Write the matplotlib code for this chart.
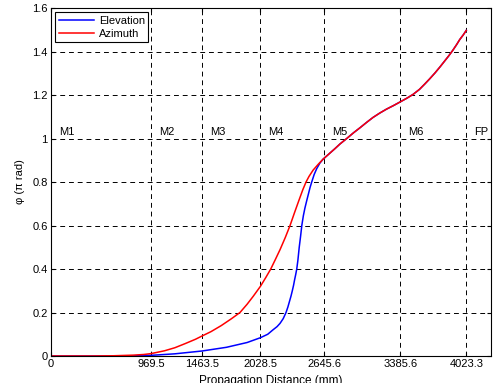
import numpy as np
import matplotlib
matplotlib.use("Agg")
import matplotlib.pyplot as plt

plt.rcParams["font.family"] = ["Liberation Sans", "DejaVu Sans"]

# the two curves split below ~2636 mm
az_head_x = [0, 400, 600, 800, 900, 969.5, 1100, 1200, 1300, 1400, 1463.5,
             1550, 1650, 1750, 1831, 1900, 1960, 2028.5, 2080, 2129, 2170,
             2220, 2270, 2316, 2360, 2403, 2440, 2471, 2500, 2540, 2590]
az_head_y = [0, 0, 0.001, 0.004, 0.007, 0.011, 0.024, 0.038, 0.057, 0.077, 0.092,
             0.112, 0.14, 0.172, 0.2, 0.238, 0.275, 0.32, 0.36, 0.4, 0.44,
             0.49, 0.545, 0.6, 0.66, 0.717, 0.765, 0.8, 0.826, 0.855, 0.882]

el_head_x = [0, 600, 800, 969.5, 1200, 1463.5, 1700, 1900, 2028.5, 2100, 2150,
             2190, 2219, 2250, 2277, 2295, 2310, 2325, 2338, 2350, 2360, 2371,
             2381, 2392, 2405, 2418, 2430, 2445, 2460, 2478, 2494, 2510, 2526,
             2550, 2575, 2605]
el_head_y = [0, 0, 0.001, 0.003, 0.01, 0.023, 0.04, 0.062, 0.084, 0.1, 0.12,
             0.135, 0.15, 0.172, 0.2, 0.225, 0.25, 0.275, 0.3, 0.325, 0.35, 0.375,
             0.4, 0.44, 0.5, 0.55, 0.6, 0.645, 0.68, 0.715, 0.745, 0.775, 0.8,
             0.835, 0.862, 0.887]

tail_x = [2636, 2700, 2750, 2800, 2865, 2930, 2995, 3060, 3120, 3185, 3250,
          3320, 3385.6, 3450, 3508, 3570, 3620, 3670, 3721, 3770, 3810, 3850,
          3892, 3930, 3960, 3995, 4023.3]
tail_y = [0.905, 0.932, 0.953, 0.975, 1.0, 1.026, 1.05, 1.075, 1.097, 1.117,
          1.135, 1.152, 1.169, 1.186, 1.203, 1.226, 1.25, 1.275, 1.302, 1.33,
          1.354, 1.378, 1.405, 1.432, 1.455, 1.477, 1.497]

xticks = [0, 969.5, 1463.5, 2028.5, 2645.6, 3385.6, 4023.3]
xticklabels = ["0", "969.5", "1463.5", "2028.5", "2645.6", "3385.6", "4023.3"]
stations = ["M1", "M2", "M3", "M4", "M5", "M6", "FP"]

fig = plt.figure(figsize=(5, 3.83), dpi=100)
ax = fig.add_axes([0.102, 0.0705, 0.88, 0.9085])

ax.plot(el_head_x + tail_x, el_head_y + tail_y, color="blue", lw=1.1,
        label="Elevation")
ax.plot(az_head_x + tail_x, az_head_y + tail_y, color="red", lw=1.1,
        label="Azimuth")

ax.set_xlim(0, 4263)
ax.set_ylim(0, 1.6)
ax.set_xticks(xticks)
ax.set_xticklabels(xticklabels)
ax.set_yticks(np.arange(0, 1.61, 0.2))
ax.set_yticklabels(["0", "0.2", "0.4", "0.6", "0.8", "1", "1.2", "1.4", "1.6"])
ax.tick_params(direction="in", top=True, right=True, labelsize=8, length=3,
               pad=2.5)
ax.grid(True, color="black", linestyle=(0, (5, 4)), linewidth=0.7)

for xt, name in zip(xticks, stations):
    ax.text(xt + 75, 1.005, name, fontsize=8, va="bottom", ha="left")

ax.set_xlabel("Propagation Distance (mm)", fontsize=8.5, labelpad=4)
ax.set_ylabel("\u03c6 (\u03c0 rad)", fontsize=8, labelpad=5)

leg = ax.legend(loc="upper left", fontsize=8, fancybox=False, framealpha=1,
                borderaxespad=0.4, handlelength=3.2, labelspacing=0.25,
                borderpad=0.3, handletextpad=0.4)
leg.get_frame().set_edgecolor("black")
leg.get_frame().set_linewidth(0.8)

fig.savefig("out.png")
plt.close()
